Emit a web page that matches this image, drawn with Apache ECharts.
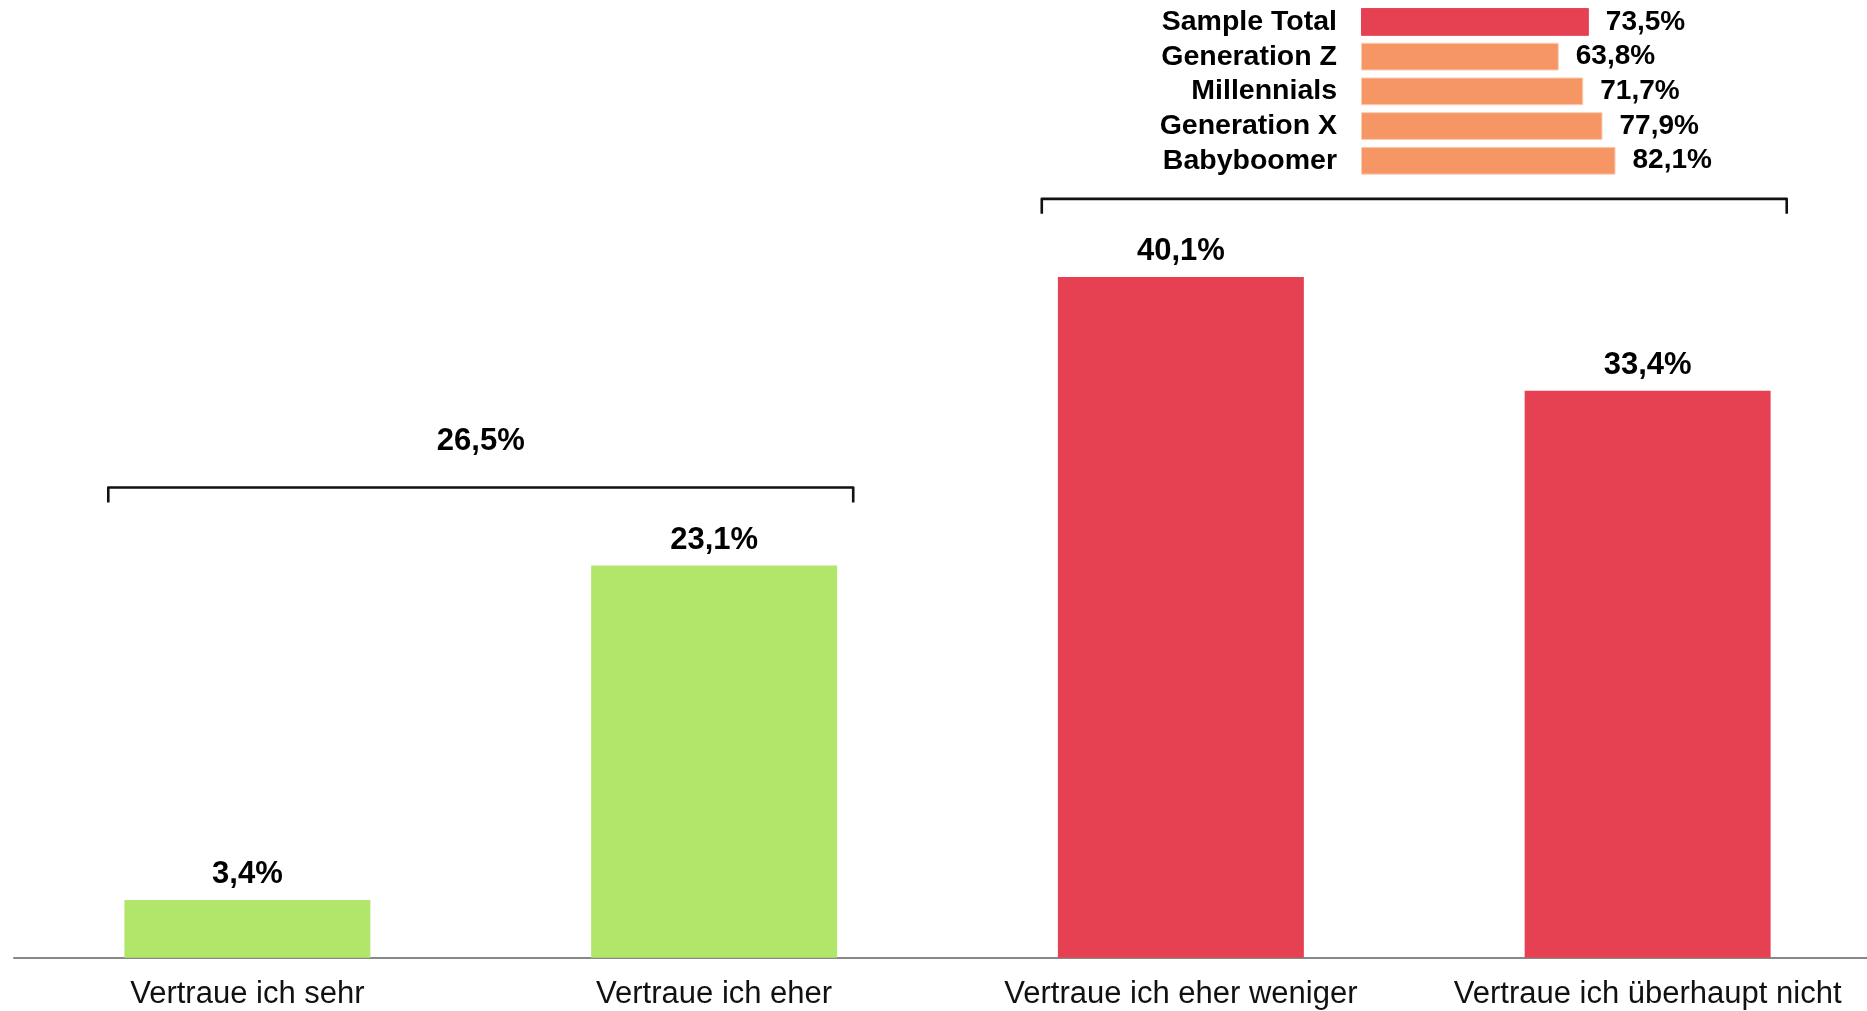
<!DOCTYPE html>
<html>
<head>
<meta charset="utf-8">
<script src="https://cdn.jsdelivr.net/npm/echarts@6/dist/echarts.min.js"></script>
<style>
html,body{margin:0;padding:0;background:#fff;overflow:hidden;width:1867px;height:1011px;}
#chart{width:1882px;height:1011px;}
</style>
</head>
<body>
<div id="chart"></div>
<script>
// ---- data ----
const categories = ['Vertraue ich sehr', 'Vertraue ich eher', 'Vertraue ich eher weniger', 'Vertraue ich überhaupt nicht'];
const values = [3.4, 23.1, 40.1, 33.4];
const barColorKeys = ['pos', 'pos', 'neg', 'neg'];

const bracketFrom = [0, 2];
const bracketTo = [1, 3];
const bracketTotals = [26.5, 73.5];
const bracketShowLabel = [true, false];

const groups = ['Sample Total', 'Generation Z', 'Millennials', 'Generation X', 'Babyboomer'];
const groupValues = [73.5, 63.8, 71.7, 77.9, 82.1];
const groupColorKeys = ['neg', 'sub', 'sub', 'sub', 'sub'];

// ---- styles ----
const COLORS = { pos: '#b2e66a', neg: '#e64152', sub: '#f69665' };
const FONT = "'Liberation Sans', Arial, Helvetica, sans-serif";
const fmt = v => v.toFixed(1).replace('.', ',') + '%';

const bracketData = bracketFrom.map((f, i) => {
  const t = bracketTo[i];
  const mx = Math.max(...values.slice(f, t + 1));
  return [f, t, mx + 4.6, bracketTotals[i], bracketShowLabel[i] ? 1 : 0];
});

const chart = echarts.init(document.getElementById('chart'), null, { renderer: 'canvas' });

chart.setOption({
  animation: false,
  backgroundColor: '#ffffff',
  grid: [
    { left: 14, right: 1, top: 7, bottom: 53.3, containLabel: false },
    { left: 1361, width: 310, top: 4.6, height: 173.5, containLabel: false }
  ],
  xAxis: [
    {
      gridIndex: 0, type: 'category', data: categories,
      axisLine: { show: true, lineStyle: { color: '#888888', width: 2 } },
      axisTick: { show: false },
      axisLabel: { color: '#111111', fontFamily: FONT, fontSize: 31, margin: 21, interval: 0 },
      splitLine: { show: false }
    },
    {
      gridIndex: 1, type: 'value', min: 0, max: 100, show: false
    }
  ],
  yAxis: [
    { gridIndex: 0, type: 'value', min: 0, max: 56, show: false },
    {
      gridIndex: 1, type: 'category', data: groups, inverse: true,
      axisLine: { show: false }, axisTick: { show: false },
      axisLabel: { color: '#000000', fontFamily: FONT, fontSize: 28.5, fontWeight: 'bold', margin: 24, interval: 0 }
    }
  ],
  series: [
    {
      type: 'bar', xAxisIndex: 0, yAxisIndex: 0,
      barWidth: '52.7%',
      data: values.map((v, i) => ({ value: v, itemStyle: { color: COLORS[barColorKeys[i]] } })),
      label: {
        show: true, position: 'top', distance: 10,
        fontFamily: FONT, fontSize: 31, fontWeight: 'bold', color: '#000000',
        formatter: p => fmt(p.value)
      }
    },
    {
      type: 'bar', xAxisIndex: 1, yAxisIndex: 1,
      barWidth: '80%',
      data: groupValues.map((v, i) => ({
        value: v,
        itemStyle: { color: COLORS[groupColorKeys[i]], borderColor: i === 0 ? COLORS.neg : '#fbcdb3', borderWidth: 1 }
      })),
      label: {
        show: true, position: 'right', distance: 17,
        fontFamily: FONT, fontSize: 28, fontWeight: 'bold', color: '#000000',
        formatter: p => fmt(p.value)
      }
    },
    {
      type: 'custom', xAxisIndex: 0, yAxisIndex: 0,
      encode: { x: [0, 1], y: 2 },
      data: bracketData,
      z: 10,
      renderItem: function (params, api) {
        const from = api.value(0), to = api.value(1), yv = api.value(2);
        const total = api.value(3), show = api.value(4);
        const p1 = api.coord([from, yv]);
        const p2 = api.coord([to, yv]);
        const band = api.size([1, 0])[0];
        const ext = band * 0.298;
        const x1 = p1[0] - ext, x2 = p2[0] + ext, y = p1[1];
        const children = [{
          type: 'polyline',
          shape: { points: [[x1, y + 15], [x1, y], [x2, y], [x2, y + 15]] },
          style: { stroke: '#111111', lineWidth: 2.6, fill: null, lineJoin: 'round' }
        }];
        if (show) {
          children.push({
            type: 'text',
            style: {
              x: (x1 + x2) / 2, y: y - 45.5,
              text: fmt(total),
              fontFamily: FONT, fontSize: 31, fontWeight: 'bold',
              fill: '#000000', align: 'center', verticalAlign: 'middle'
            }
          });
        }
        return { type: 'group', children: children };
      }
    }
  ]
});
</script>
</body>
</html>
